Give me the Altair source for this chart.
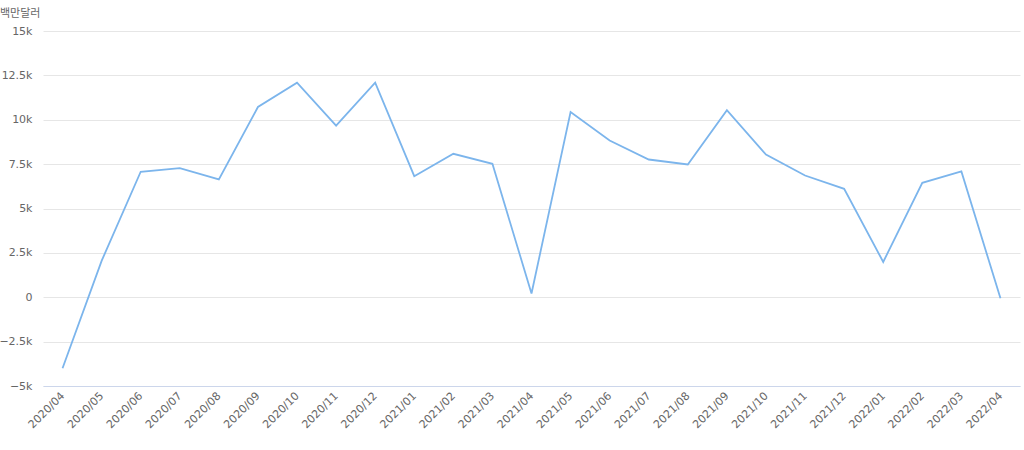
import altair as alt
import pandas as pd

months = ["2020/04", "2020/05", "2020/06", "2020/07", "2020/08", "2020/09", "2020/10",
          "2020/11", "2020/12", "2021/01", "2021/02", "2021/03", "2021/04", "2021/05",
          "2021/06", "2021/07", "2021/08", "2021/09", "2021/10", "2021/11", "2021/12",
          "2022/01", "2022/02", "2022/03", "2022/04"]
values = [-4000, 2050, 7070, 7270, 6640, 10720, 12090, 9670, 12090, 6820, 8080, 7520,
          210, 10440, 8830, 7760, 7480, 10540, 8040, 6860, 6110, 1990, 6450, 7090, -60]
y_ticks = [-5000, -2500, 0, 2500, 5000, 7500, 10000, 12500, 15000]
unit_label = ["백만달러"]

df = pd.DataFrame({"month": months, "value": values})

font = "DejaVu Sans"

line = alt.Chart(df).mark_line(color="#7cb5ec", strokeWidth=1.8).encode(
    x=alt.X("month:O", sort=months, scale=alt.Scale(type="point", padding=0.5),
            axis=alt.Axis(title=None, labelAngle=-45, labelAlign="right", labelBaseline="middle",
                          labelPadding=8, ticks=False, grid=False, domainColor="#ccd6eb",
                          domainWidth=1, labelColor="#666666", labelFontSize=11, labelFont=font)),
    y=alt.Y("value:Q", scale=alt.Scale(domain=[-5000, 15000], nice=False, zero=False),
            axis=alt.Axis(title=None, values=y_ticks, domain=False, ticks=False,
                          gridColor="#e6e6e6", gridWidth=1, labelColor="#666666",
                          labelFontSize=11, labelFont=font, labelPadding=11,
                          labelExpr="datum.value == 0 ? '0' : format(datum.value / 1000, '~') + 'k'"))
)

unit = alt.Chart(pd.DataFrame({"t": unit_label})).mark_text(
    align="left", baseline="middle", fontSize=11, color="#666666", font="Noto Sans CJK KR"
).encode(text="t:N", x=alt.value(-43), y=alt.value(-17))

chart = alt.layer(line, unit).properties(
    width=977, height=355,
    autosize="none",
    padding={"left": 43, "top": 31, "right": 4, "bottom": 64},
).configure(background="white").configure_view(stroke=None)

chart.save("out.html", embed_options={"renderer": "svg", "actions": False})
